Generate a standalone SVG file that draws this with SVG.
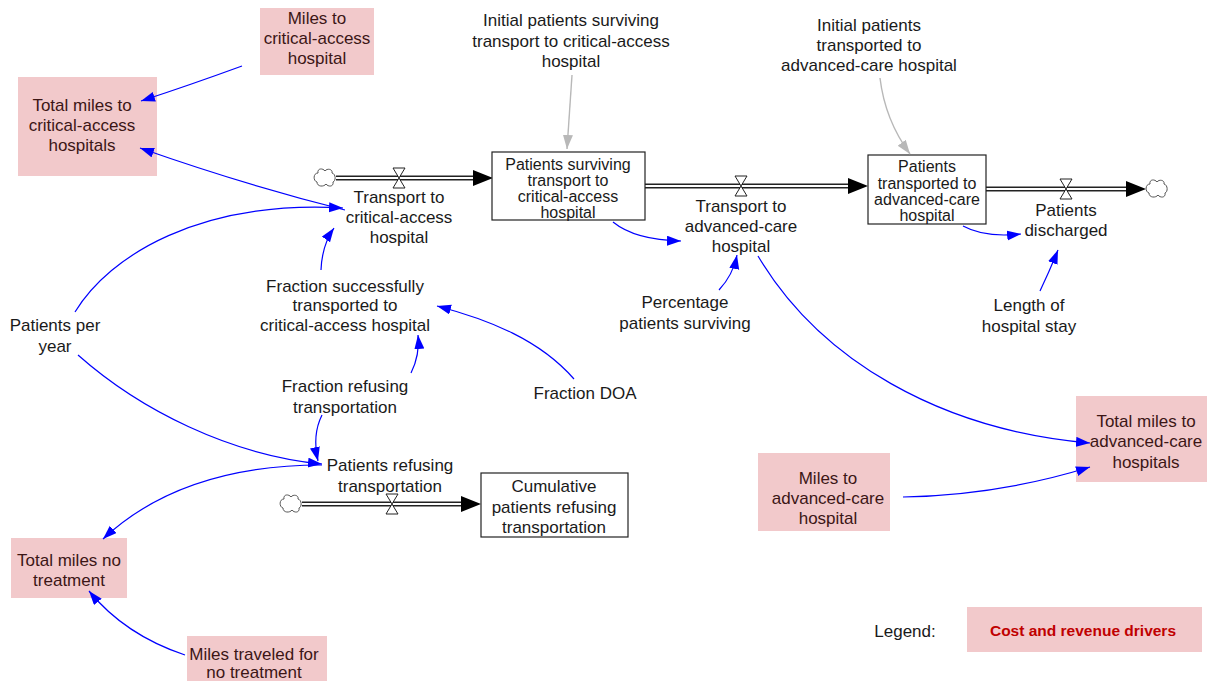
<svg xmlns="http://www.w3.org/2000/svg" width="1207" height="681" viewBox="0 0 1207 681">
<style>
text{font-family:"Liberation Sans",Arial,sans-serif;font-size:17px;fill:#1a1a1a;text-anchor:middle}
.pk text{fill:#3c1616}
.st text{font-size:16px}
.pkbox{fill:#f2c9cb;stroke:none}
.stock{fill:#fff;stroke:#222;stroke-width:1.2}
.link{fill:none;stroke:#0000ff;stroke-width:1.2;marker-end:url(#ab)}
.glink{fill:none;stroke:#b8b8b8;stroke-width:1.4;marker-end:url(#ag)}
.pipeo{stroke:#222;stroke-width:5;fill:none}
.pipei{stroke:#fff;stroke-width:1.8;fill:none}
.valve{fill:#fff;stroke:#222;stroke-width:1}
.cloud{fill:#fff;stroke:#555;stroke-width:1}
.ah{fill:#000}
</style>
<defs>
<marker id="ab" markerUnits="userSpaceOnUse" markerWidth="15" markerHeight="11" refX="14" refY="5" orient="auto"><path d="M0,0 L14,5 L0,10 Z" fill="#0000ff"/></marker>
<marker id="ag" markerUnits="userSpaceOnUse" markerWidth="15" markerHeight="11" refX="14" refY="5" orient="auto"><path d="M0,0 L14,5 L0,10 Z" fill="#b8b8b8"/></marker>
<path id="cloud" class="cloud" d="M-7,-5 C-8,-10 -2,-10 0,-7 C2,-10 8,-9 7,-5 C11,-4 11,3 8,4 C9,9 3,9 1,6 C-1,9 -8,9 -8,4 C-12,3 -12,-5 -7,-5 Z"/>
<path id="valve" class="valve" d="M-6,-10 L6,-10 L-6,10 L6,10 Z"/>
</defs>
<rect width="1207" height="681" fill="#fff"/>

<g id="flows">
  <path class="pipeo" d="M336,178 H476"/><path class="pipei" d="M336,178 H476"/>
  <polygon class="ah" points="493,178 473,170 473,186"/>
  <use href="#cloud" x="325" y="178"/>
  <use href="#valve" x="399" y="178"/>

  <path class="pipeo" d="M645,186 H851"/><path class="pipei" d="M645,186 H851"/>
  <polygon class="ah" points="868,186 848,178 848,194"/>
  <use href="#valve" x="741" y="186"/>

  <path class="pipeo" d="M986,189 H1128"/><path class="pipei" d="M986,189 H1128"/>
  <polygon class="ah" points="1146,189 1126,181 1126,197"/>
  <use href="#cloud" x="1157" y="189"/>
  <use href="#valve" x="1066" y="189"/>

  <path class="pipeo" d="M302,504 H464"/><path class="pipei" d="M302,504 H464"/>
  <polygon class="ah" points="481,504 461,496 461,512"/>
  <use href="#cloud" x="291" y="504"/>
  <use href="#valve" x="392" y="504"/>
</g>

<g id="miles-cah" class="pk"><rect class="pkbox" x="260" y="8" width="114" height="67"/>
  <text x="317" y="24">Miles to</text><text x="317" y="44">critical-access</text><text x="317" y="64">hospital</text></g>
<g id="total-miles-cah" class="pk"><rect class="pkbox" x="18" y="77" width="139" height="99"/>
  <text x="82" y="111">Total miles to</text><text x="82" y="131">critical-access</text><text x="82" y="151">hospitals</text></g>
<g id="transport-cah"><text x="399" y="203">Transport to</text><text x="399" y="223">critical-access</text><text x="399" y="243">hospital</text></g>
<g id="stock-surviving" class="st"><rect class="stock" x="492" y="152" width="153" height="68"/>
  <text x="568" y="170">Patients surviving</text><text x="568" y="186">transport to</text><text x="568" y="202">critical-access</text><text x="568" y="218">hospital</text></g>
<g id="transport-ach"><text x="741" y="212">Transport to</text><text x="741" y="232">advanced-care</text><text x="741" y="252">hospital</text></g>
<g id="stock-transported" class="st"><rect class="stock" x="868" y="155" width="118" height="69"/>
  <text x="927" y="172">Patients</text><text x="927" y="189">transported to</text><text x="927" y="205">advanced-care</text><text x="927" y="221">hospital</text></g>
<g id="discharged"><text x="1066" y="216">Patients</text><text x="1066" y="236">discharged</text></g>
<g id="init-surviving"><text x="571" y="26">Initial patients surviving</text><text x="571" y="47">transport to critical-access</text><text x="571" y="67">hospital</text></g>
<g id="init-transported"><text x="869" y="31">Initial patients</text><text x="869" y="51">transported to</text><text x="869" y="71">advanced-care hospital</text></g>
<g id="patients-per-year"><text x="55" y="331">Patients per</text><text x="55" y="352">year</text></g>
<g id="fraction-success"><text x="345" y="292">Fraction successfully</text><text x="345" y="311">transported to</text><text x="345" y="331">critical-access hospital</text></g>
<g id="fraction-refusing"><text x="345" y="392">Fraction refusing</text><text x="345" y="413">transportation</text></g>
<g id="fraction-doa"><text x="585" y="399">Fraction DOA</text></g>
<g id="pct-surviving"><text x="685" y="308">Percentage</text><text x="685" y="329">patients surviving</text></g>
<g id="length-stay"><text x="1029" y="311">Length of</text><text x="1029" y="332">hospital stay</text></g>
<g id="patients-refusing"><text x="390" y="471">Patients refusing</text><text x="390" y="492">transportation</text></g>
<g id="stock-cumulative"><rect class="stock" x="481" y="473" width="147" height="64"/>
  <text x="554" y="492">Cumulative</text><text x="554" y="513">patients refusing</text><text x="554" y="533">transportation</text></g>
<g id="total-miles-none" class="pk"><rect class="pkbox" x="11" y="538" width="116" height="60"/>
  <text x="69" y="566">Total miles no</text><text x="69" y="586">treatment</text></g>
<g id="miles-none" class="pk"><rect class="pkbox" x="187" y="636" width="140" height="50"/>
  <text x="254" y="660">Miles traveled for</text><text x="254" y="678">no treatment</text></g>
<g id="miles-ach" class="pk"><rect class="pkbox" x="758" y="453" width="132" height="78"/>
  <text x="828" y="484">Miles to</text><text x="828" y="504">advanced-care</text><text x="828" y="524">hospital</text></g>
<g id="total-miles-ach" class="pk"><rect class="pkbox" x="1076" y="396" width="131" height="86"/>
  <text x="1146" y="427">Total miles to</text><text x="1146" y="447">advanced-care</text><text x="1146" y="468">hospitals</text></g>
<g id="legend"><text x="905" y="637">Legend:</text>
  <rect class="pkbox" x="967" y="607" width="235" height="45"/>
  <text x="1083" y="636" style="font-weight:bold;fill:#c00000;font-size:15.5px">Cost and revenue drivers</text></g>

<g id="connectors">
  <path class="link" d="M242,66 Q190,85 141,101"/>
  <path class="link" d="M345,210 Q245,185 140,148"/>
  <path class="link" d="M75,312 C110,255 200,200 343,208"/>
  <path class="link" d="M321,270 Q322,245 334,228"/>
  <path class="link" d="M574,379 C540,340 490,320 437,306"/>
  <path class="link" d="M411,373 Q420,355 418,335"/>
  <path class="link" d="M322,415 Q312,435 318,461"/>
  <path class="link" d="M78,355 C140,410 230,455 322,464"/>
  <path class="link" d="M322,465 C220,465 150,495 103,539"/>
  <path class="link" d="M185,655 Q125,635 89,591"/>
  <path class="link" d="M613,222 Q635,240 681,241"/>
  <path class="link" d="M719,290 Q733,275 737,255"/>
  <path class="link" d="M758,256 C820,360 940,430 1090,443"/>
  <path class="link" d="M903,497 Q1000,495 1090,467"/>
  <path class="link" d="M963,226 Q985,238 1021,234"/>
  <path class="link" d="M1040,291 Q1050,270 1058,250"/>
  <path class="glink" d="M572,75 L567,149"/>
  <path class="glink" d="M880,78 Q885,120 910,154"/>
</g>
</svg>
